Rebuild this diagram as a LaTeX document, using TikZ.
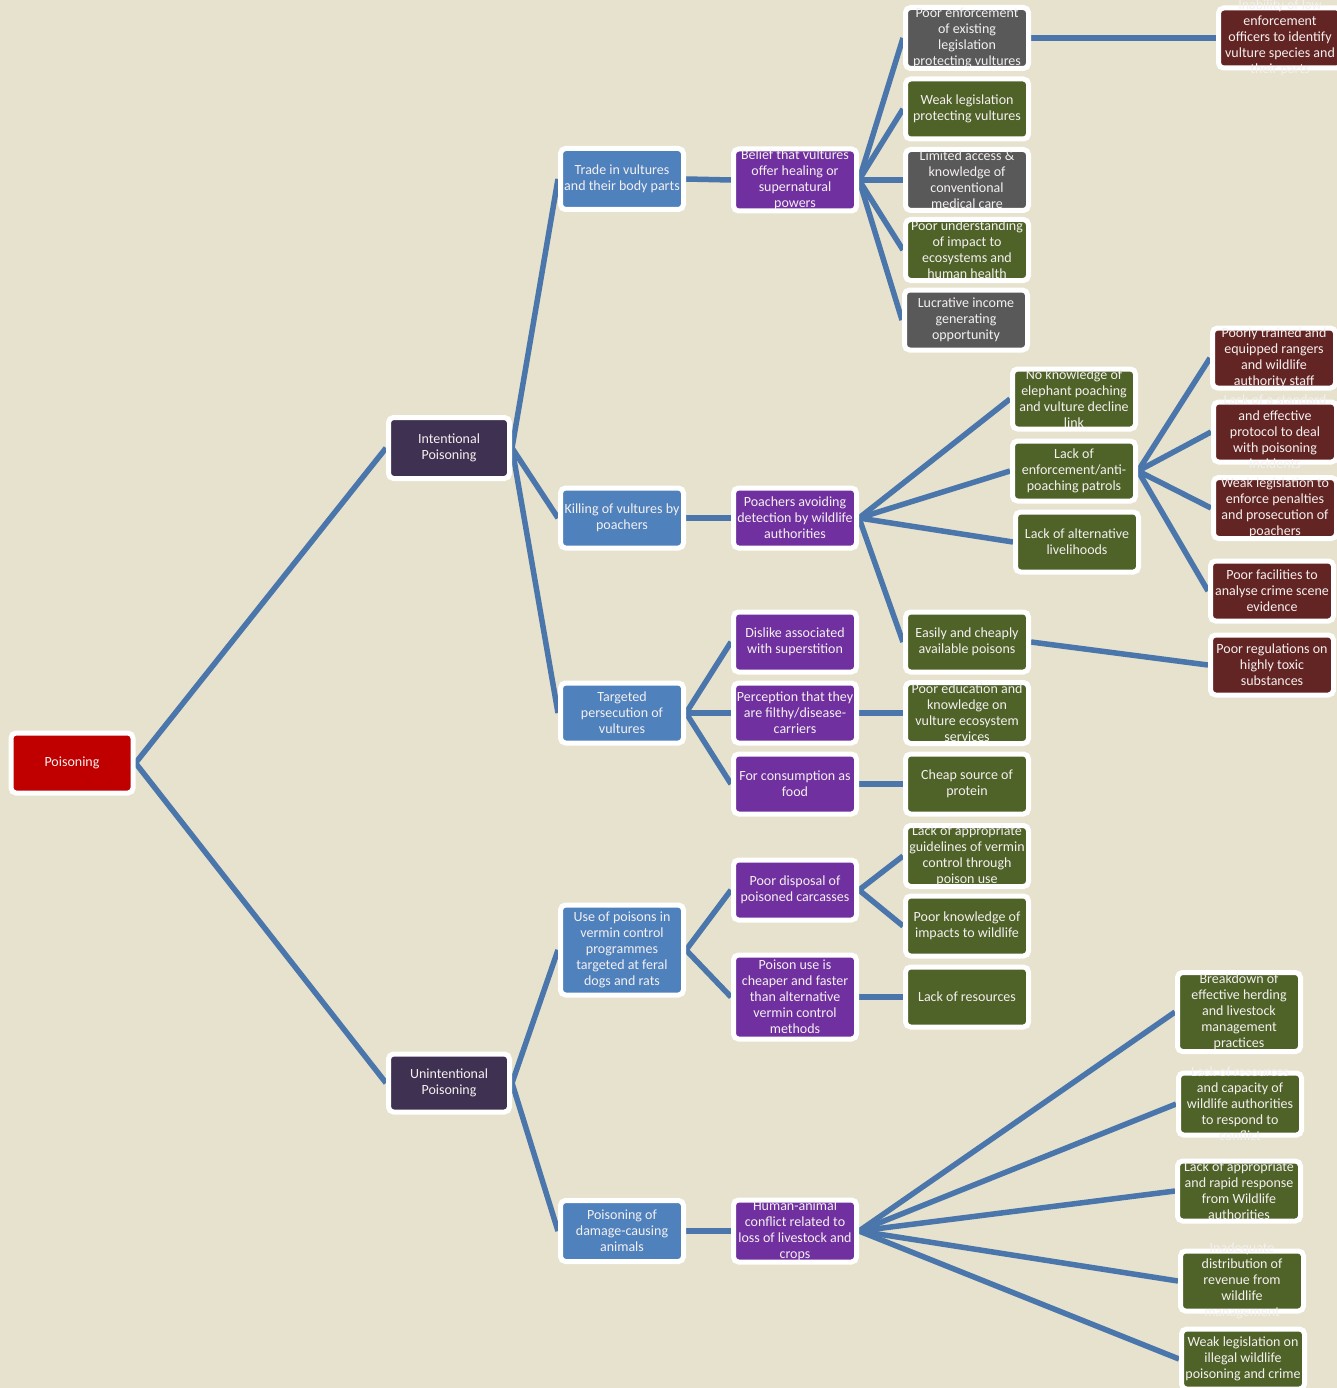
\documentclass[tikz,border=0pt]{standalone}
\usepackage{fontspec}
\setmainfont{Carlito}
\usetikzlibrary{positioning}

\definecolor{paper}{HTML}{E6E2CD}
\definecolor{linkblue}{HTML}{4A76AC}
\definecolor{rootred}{HTML}{C00000}
\definecolor{typepurple}{HTML}{3F3151}
\definecolor{pathblue}{HTML}{4F81BD}
\definecolor{motivepurple}{HTML}{7030A0}
\definecolor{causegreen}{HTML}{4F6228}
\definecolor{causegray}{HTML}{595959}
\definecolor{rootcause}{HTML}{632523}
\definecolor{boxtextc}{HTML}{F4F0F0}

\pgfdeclarelayer{paperlayer}
\pgfdeclarelayer{linklayer}
\pgfsetlayers{paperlayer,linklayer,main}

% box with fixed size, text laid on top (may run out of the box)
\newcommand{\cbox}[5][]{%
  \node[box, fill=#3, #1] (#2) at #4 {};
  \node[boxtext] (#2-text) at (#2.center) {#5};}

\begin{document}
\begin{tikzpicture}
[x=1pt, y=-1pt,
% STYLES
% the box style is used for every coloured block
box/.style={rectangle, rounded corners=5pt, draw=white, line width=5pt, inner sep=0pt, minimum width=123pt, minimum height=60pt},
% the boxtext style is used for the words in a block
boxtext/.style={align=center, inner sep=0pt, text=boxtextc, font=\fontsize{14}{16}\selectfont},
% the link style is used for the connectors
link/.style={draw=linkblue, line width=5.5pt}]
\useasboundingbox (0,0) rectangle (1337,1388);
\begin{pgfonlayer}{paperlayer}
\fill[paper] (0,0) rectangle (1337,1388);
\end{pgfonlayer}
% Draw the tree
% root and types
\cbox[minimum width=122pt]{poison}{rootred}{(72,763)}{Poisoning}
\cbox[minimum width=121pt, minimum height=61pt]{intent}{typepurple}{(449,448)}{Intentional\\Poisoning}
\cbox[minimum width=121pt, minimum height=58pt]{unintent}{typepurple}{(449,1083)}{Unintentional\\Poisoning}
% pathways
\cbox[minimum height=61pt]{trade}{pathblue}{(622,179)}{Trade in vultures\\and their body parts}
\cbox{killing}{pathblue}{(622,518)}{Killing of vultures by\\poachers}
\cbox{targeted}{pathblue}{(622,713)}{Targeted\\persecution of\\vultures}
\cbox[minimum height=90pt]{vermin}{pathblue}{(622,950)}{Use of poisons in\\vermin control\\programmes\\targeted at feral\\dogs and rats}
\cbox[minimum height=61pt]{damage}{pathblue}{(622,1231)}{Poisoning of\\damage-causing\\animals}
% motives
\cbox[minimum height=62pt]{belief}{motivepurple}{(795,180)}{Belief that vultures\\offer healing or\\supernatural\\powers}
\cbox{avoiding}{motivepurple}{(795,518)}{Poachers avoiding\\detection by wildlife\\authorities}
\cbox{dislike}{motivepurple}{(795,642)}{Dislike associated\\with superstition}
\cbox{filthy}{motivepurple}{(795,713)}{Perception that they\\are filthy/disease-\\carriers}
\cbox{food}{motivepurple}{(795,784)}{For consumption as\\food}
\cbox{disposal}{motivepurple}{(795,890)}{Poor disposal of\\poisoned carcasses}
\cbox[minimum height=84pt]{cheaper}{motivepurple}{(795,997)}{Poison use is\\cheaper and faster\\than alternative\\vermin control\\methods}
\cbox[minimum height=62pt]{conflict}{motivepurple}{(795,1231)}{Human-animal\\conflict related to\\loss of livestock and\\crops}
%%%%%%%%%%%%%%%
% underlying causes
\cbox[minimum height=61pt]{enforce}{causegray}{(967,38)}{Poor enforcement\\of existing\\legislation\\protecting vultures}
\cbox{weaklaw}{causegreen}{(967,109)}{Weak legislation\\protecting vultures}
\cbox[minimum height=61pt]{access}{causegray}{(967,180)}{Limited access \&\\knowledge of\\conventional\\medical care}
\cbox[minimum height=61pt]{impact}{causegreen}{(967,250)}{Poor understanding\\of impact to\\ecosystems and\\human health}
\cbox{income}{causegray}{(966,320)}{Lucrative income\\generating\\opportunity}
\cbox{elephant}{causegreen}{(1074,399)}{No knowledge of\\elephant poaching\\and vulture decline\\link}
\cbox{patrols}{causegreen}{(1074,471)}{Lack of\\enforcement/anti-\\poaching patrols}
\cbox{livelihoods}{causegreen}{(1077,542)}{Lack of alternative\\livelihoods}
\cbox{cheaply}{causegreen}{(967,642)}{Easily and cheaply\\available poisons}
\cbox[minimum height=61pt]{education}{causegreen}{(967,713)}{Poor education and\\knowledge on\\vulture ecosystem\\services}
\cbox{protein}{causegreen}{(967,784)}{Cheap source of\\protein}
\cbox[minimum height=61pt]{guidelines}{causegreen}{(967,856)}{Lack of appropriate\\guidelines of vermin\\control through\\poison use}
\cbox{wildlife}{causegreen}{(967,926)}{Poor knowledge of\\impacts to wildlife}
\cbox{resources}{causegreen}{(967,997)}{Lack of resources}
% root causes
\cbox{identify}{rootcause}{(1280,38)}{Inability of law\\enforcement\\officers to identify\\vulture species and\\their parts}
\cbox{rangers}{rootcause}{(1274,358)}{Poorly trained and\\equipped rangers\\and wildlife\\authority staff}
\cbox{protocol}{rootcause}{(1275,432)}{Lack of a standard\\and effective\\protocol to deal\\with poisoning\\incidents}
\cbox[minimum height=61pt]{penalties}{rootcause}{(1275,508)}{Weak legislation to\\enforce penalties\\and prosecution of\\poachers}
\cbox{crimescene}{rootcause}{(1272,591)}{Poor facilities to\\analyse crime scene\\evidence}
\cbox{toxic}{rootcause}{(1272,665)}{Poor regulations on\\highly toxic\\substances}
\cbox[minimum height=79pt]{herding}{causegreen}{(1239,1012)}{Breakdown of\\effective herding\\and livestock\\management\\practices}
\cbox[minimum height=62pt]{capacity}{causegreen}{(1240,1104)}{Lack of resources\\and capacity of\\wildlife authorities\\to respond to\\conflict}
\cbox{response}{causegreen}{(1239,1191)}{Lack of appropriate\\and rapid response\\from Wildlife\\authorities}
\cbox{revenue}{causegreen}{(1242,1281)}{Inadequate\\distribution of\\revenue from\\wildlife\\management}
\cbox{illegal}{causegreen}{(1243,1359)}{Weak legislation on\\illegal wildlife\\poisoning and crime}
%%%%%%%%%%%%%%%%
% Draw the links between blocks
\begin{pgfonlayer}{linklayer}
\path[link]
(poison.east) edge (intent.west)
(poison.east) edge (unintent.west)
(intent.east) edge (trade.west)
(intent.east) edge (killing.west)
(intent.east) edge (targeted.west)
(unintent.east) edge (vermin.west)
(unintent.east) edge (damage.west)
(trade.east) edge (belief.west)
(killing.east) edge (avoiding.west)
(targeted.east) edge (dislike.west)
(targeted.east) edge (filthy.west)
(targeted.east) edge (food.west)
(vermin.east) edge (disposal.west)
(vermin.east) edge (cheaper.west)
(damage.east) edge (conflict.west);
\foreach \cause in {enforce,weaklaw,access,impact,income}
  \draw[link] (belief.east) -- (\cause.west);
\foreach \cause in {elephant,patrols,livelihoods,cheaply}
  \draw[link] (avoiding.east) -- (\cause.west);
\foreach \cause in {rangers,protocol,penalties,crimescene}
  \draw[link] (patrols.east) -- (\cause.west);
\foreach \cause in {herding,capacity,response,revenue,illegal}
  \draw[link] (conflict.east) -- (\cause.west);
\path[link]
(enforce.east) edge (identify.west)
(cheaply.east) edge (toxic.west)
(filthy.east) edge (education.west)
(food.east) edge (protein.west)
(disposal.east) edge (guidelines.west)
(disposal.east) edge (wildlife.west)
(cheaper.east) edge (resources.west);
\end{pgfonlayer}
\end{tikzpicture}
\end{document}
